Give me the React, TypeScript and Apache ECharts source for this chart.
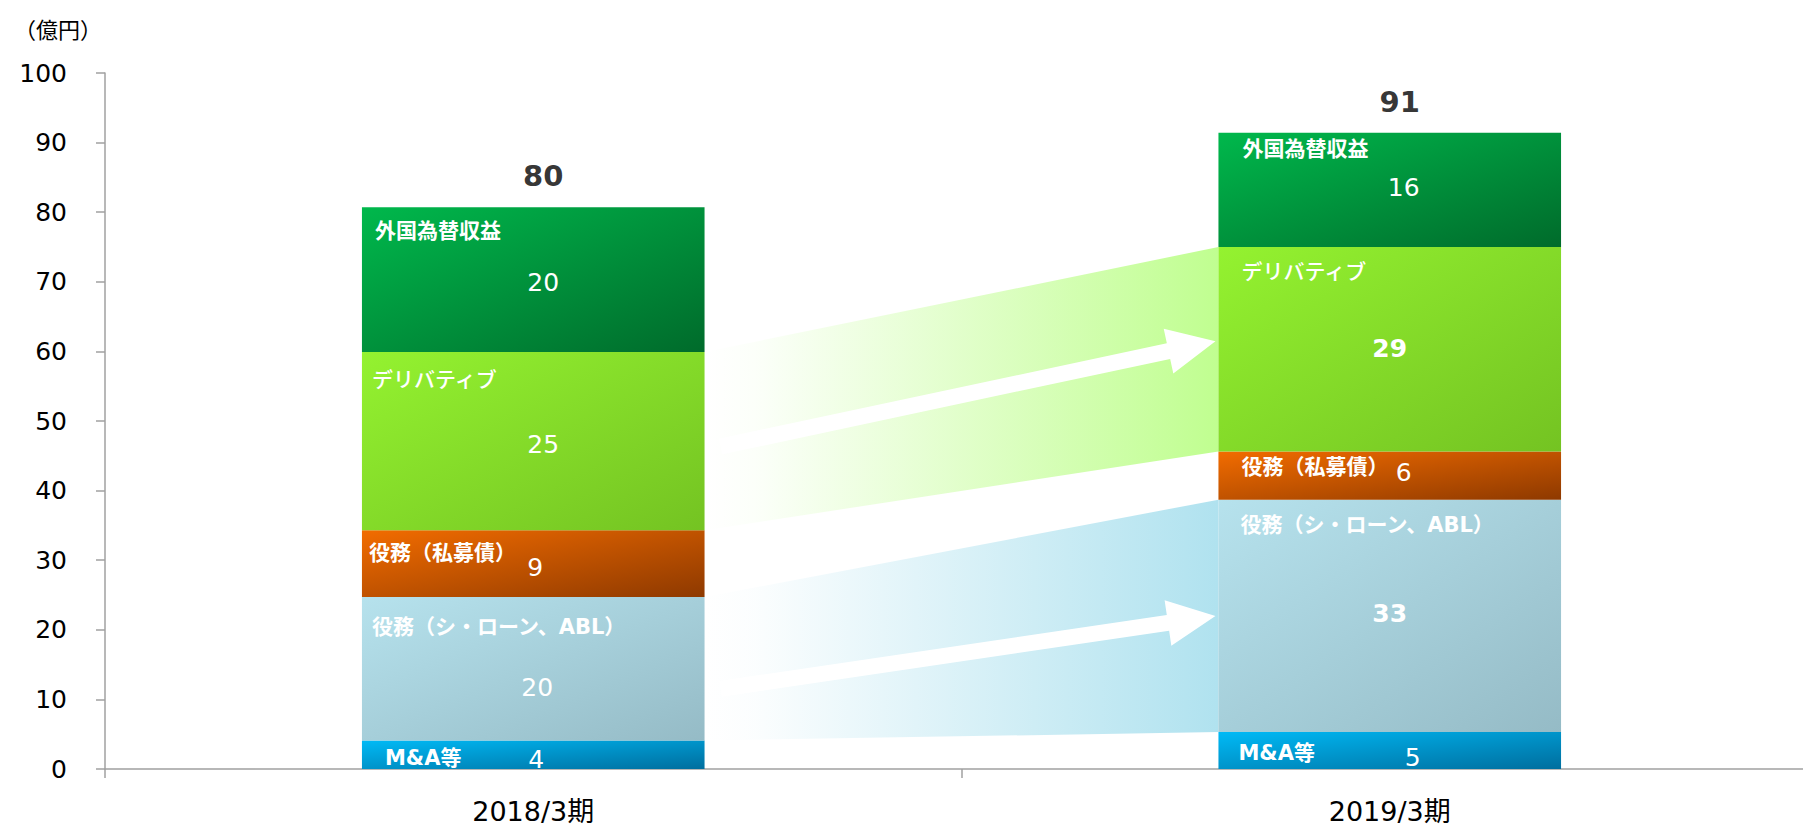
import React, { useEffect, useRef } from "react";
import * as echarts from "echarts";

// ---- data ----
const categories = ["2018/3期", "2019/3期"];
const segmentNames = ["M&A等", "役務（シ・ローン、ABL）", "役務（私募債）", "デリバティブ", "外国為替収益"];
const mnaValues = [4.1, 5.3];
const syndicatedLoanValues = [20.6, 33.4];
const privateBondValues = [9.6, 6.9];
const derivativeValues = [25.6, 29.4];
const fxValues = [20.8, 16.4];
const yAxisMin = 0;
const yAxisMax = 100;
const yAxisInterval = 10;
const unitLabel = "（億円）";

const segmentValues = [mnaValues, syndicatedLoanValues, privateBondValues, derivativeValues, fxValues];

// ---- styles ----
const segmentColors: [string, string][] = [
  ["#00baf6", "#006e9e"],
  ["#b6e2ed", "#95bbc6"],
  ["#f26c00", "#8e3900"],
  ["#94f230", "#74c322"],
  ["#00b84c", "#006b2b"],
];
const nameOffsets: number[][][] = [
  [[12, -4], [9, -1]],
  [[-1, 8], [11, 4]],
  [[-4, 1], [12, -6]],
  [[-1, 4], [12, 1]],
  [[2, 2], [13, -5]],
];
const valueOffsets: number[][][] = [
  [[3, 5], [23, 7]],
  [[4, 19], [0, -2]],
  [[2, 4], [14, -3]],
  [[10, 3], [0, -1]],
  [[10, 3], [14, -2]],
];
const boldValue: boolean[][] = [
  [false, false],
  [false, true],
  [false, false],
  [false, true],
  [false, false],
];
const nameWeights: (string | number)[] = ["bold", "bold", "bold", 500, "bold"];
const flowDefs = [
  { seg: 3, color: [192, 254, 144], startFrac: 0.53, endFrac: 0.46 },
  { seg: 1, color: [176, 226, 239], startFrac: 0.64, endFrac: 0.5 },
];

const AXIS_COLOR = "#a0a0a0";
const LATIN = "'DejaVu Sans', 'Noto Sans CJK JP', sans-serif";
const CHART_W = 1818;
const CHART_H = 827;

export default function App() {
  const ref = useRef<HTMLDivElement>(null);

  useEffect(() => {
    if (!ref.current) return;
    const chart = echarts.init(ref.current, undefined, { renderer: "svg" });

    const totals = categories.map((_, ci) =>
      segmentValues.reduce((s, arr) => s + arr[ci], 0)
    );

    const barSeries: any[] = segmentValues.map((vals, si) => ({
      type: "bar",
      name: segmentNames[si],
      stack: "main",
      barWidth: "40%",
      barGap: "-100%",
      z: 2,
      itemStyle: {
        color: new echarts.graphic.LinearGradient(0, 0, 1, 1, [
          { offset: 0, color: segmentColors[si][0] },
          { offset: 1, color: segmentColors[si][1] },
        ]),
      },
      label: {
        show: true,
        position: "inside",
        color: "#ffffff",
        fontSize: 25,
        fontFamily: LATIN,
        formatter: (p: any) => String(Math.floor(p.value)),
      },
      data: vals.map((v, ci) => ({
        value: v,
        label: {
          offset: valueOffsets[si][ci],
          fontWeight: boldValue[si][ci] ? "bold" : "normal",
        },
      })),
    }));

    const nameSeries: any[] = segmentValues.map((vals, si) => ({
      type: "bar",
      name: segmentNames[si] + " ",
      stack: "names",
      barWidth: "40%",
      barGap: "-100%",
      silent: true,
      z: 3,
      itemStyle: { color: "rgba(0,0,0,0)" },
      label: {
        show: true,
        position: "insideTopLeft",
        distance: 11,
        color: "#ffffff",
        fontSize: 21,
        fontWeight: nameWeights[si],
        fontFamily: nameWeights[si] === 500 ? "'Noto Sans CJK JP', sans-serif" : LATIN,
        formatter: () => segmentNames[si],
      },
      data: vals.map((v, ci) => ({
        value: v,
        label: { offset: nameOffsets[si][ci] },
      })),
    }));

    const totalSeries = {
      type: "scatter",
      name: "合計",
      symbolSize: 1,
      silent: true,
      itemStyle: { color: "rgba(0,0,0,0)" },
      label: {
        show: true,
        position: "top",
        distance: 16,
        offset: [10, 0],
        color: "#000000",
        fontSize: 29,
        fontWeight: "bold",
        fontFamily: LATIN,
        formatter: (p: any) => String(Math.floor(p.value + 1e-9)),
      },
      data: totals,
      z: 5,
    };

    chart.setOption({
      animation: false,
      title: {
        text: unitLabel,
        left: 9,
        top: 12,
        textStyle: { fontSize: 22, fontWeight: "normal", color: "#000", fontFamily: "'Noto Sans CJK JP', sans-serif" },
      },
      grid: { left: 105, right: 0, top: 73, bottom: 58, containLabel: false },
      xAxis: {
        type: "category",
        data: categories,
        axisLine: { show: true, lineStyle: { color: AXIS_COLOR, width: 1.5 } },
        axisTick: { show: true, alignWithLabel: false, length: 9, lineStyle: { color: AXIS_COLOR, width: 1.5 } },
        axisLabel: { fontSize: 27, color: "#000", margin: 29, fontFamily: LATIN },
      },
      yAxis: {
        type: "value",
        min: yAxisMin,
        max: yAxisMax,
        interval: yAxisInterval,
        axisLine: { show: true, lineStyle: { color: AXIS_COLOR, width: 1.5 } },
        axisTick: { show: true, length: 9, lineStyle: { color: AXIS_COLOR, width: 1.5 } },
        splitLine: { show: false },
        axisLabel: { fontSize: 25, color: "#000", margin: 38, fontFamily: LATIN },
      },
      series: [...barSeries, ...nameSeries, totalSeries],
    });

    // decorative flows & arrows, positioned from the data via the axes
    const toPx = (ci: number, v: number) => chart.convertToPixel({ gridIndex: 0 }, [ci, v]) as number[];
    const x0 = toPx(0, 0)[0];
    const x1 = toPx(1, 0)[0];
    const half = (x1 - x0) * 0.2;
    const leftX = x0 + half;
    const rightX = x1 - half;
    const cum = (ci: number, k: number) => segmentValues.slice(0, k).reduce((s, a) => s + a[ci], 0);

    const graphics: any[] = [];
    flowDefs.forEach((f) => {
      const yTop0 = toPx(0, cum(0, f.seg + 1))[1];
      const yBot0 = toPx(0, cum(0, f.seg))[1];
      const yTop1 = toPx(1, cum(1, f.seg + 1))[1];
      const yBot1 = toPx(1, cum(1, f.seg))[1];
      const [r, g, b] = f.color;
      graphics.push({
        type: "polygon",
        z: 1,
        silent: true,
        shape: { points: [[leftX, yTop0], [rightX, yTop1], [rightX, yBot1], [leftX, yBot0]] },
        style: {
          fill: new echarts.graphic.LinearGradient(0, 0, 1, 0, [
            { offset: 0, color: `rgba(${r},${g},${b},0)` },
            { offset: 0.1, color: `rgba(${r},${g},${b},0.05)` },
            { offset: 1, color: `rgba(${r},${g},${b},1)` },
          ]),
        },
      });
      const sx = leftX + 16;
      const sy = yTop0 + (yBot0 - yTop0) * f.startFrac;
      const ex = rightX - 3;
      const ey = yTop1 + (yBot1 - yTop1) * f.endFrac;
      const dx = ex - sx;
      const dy = ey - sy;
      const len = Math.sqrt(dx * dx + dy * dy);
      const ux = dx / len;
      const uy = dy / len;
      const nx = -uy;
      const ny = ux;
      const w = 16;
      const hl = 48;
      const hw = 46;
      const bx = ex - ux * hl;
      const by = ey - uy * hl;
      graphics.push({
        type: "polygon",
        z: 2,
        silent: true,
        shape: {
          points: [
            [sx + (nx * w) / 2, sy + (ny * w) / 2],
            [bx + (nx * w) / 2, by + (ny * w) / 2],
            [bx + (nx * hw) / 2, by + (ny * hw) / 2],
            [ex, ey],
            [bx - (nx * hw) / 2, by - (ny * hw) / 2],
            [bx - (nx * w) / 2, by - (ny * w) / 2],
            [sx - (nx * w) / 2, sy - (ny * w) / 2],
          ],
        },
        style: { fill: "#ffffff" },
      });
    });
    chart.setOption({ graphic: graphics });

    return () => chart.dispose();
  }, []);

  return (
    <div
      style={{
        position: "fixed",
        left: 0,
        top: 0,
        width: 1803,
        height: 827,
        overflow: "hidden",
        background: "#fff",
      }}
    >
      <div ref={ref} style={{ width: CHART_W, height: CHART_H }} />
    </div>
  );
}
